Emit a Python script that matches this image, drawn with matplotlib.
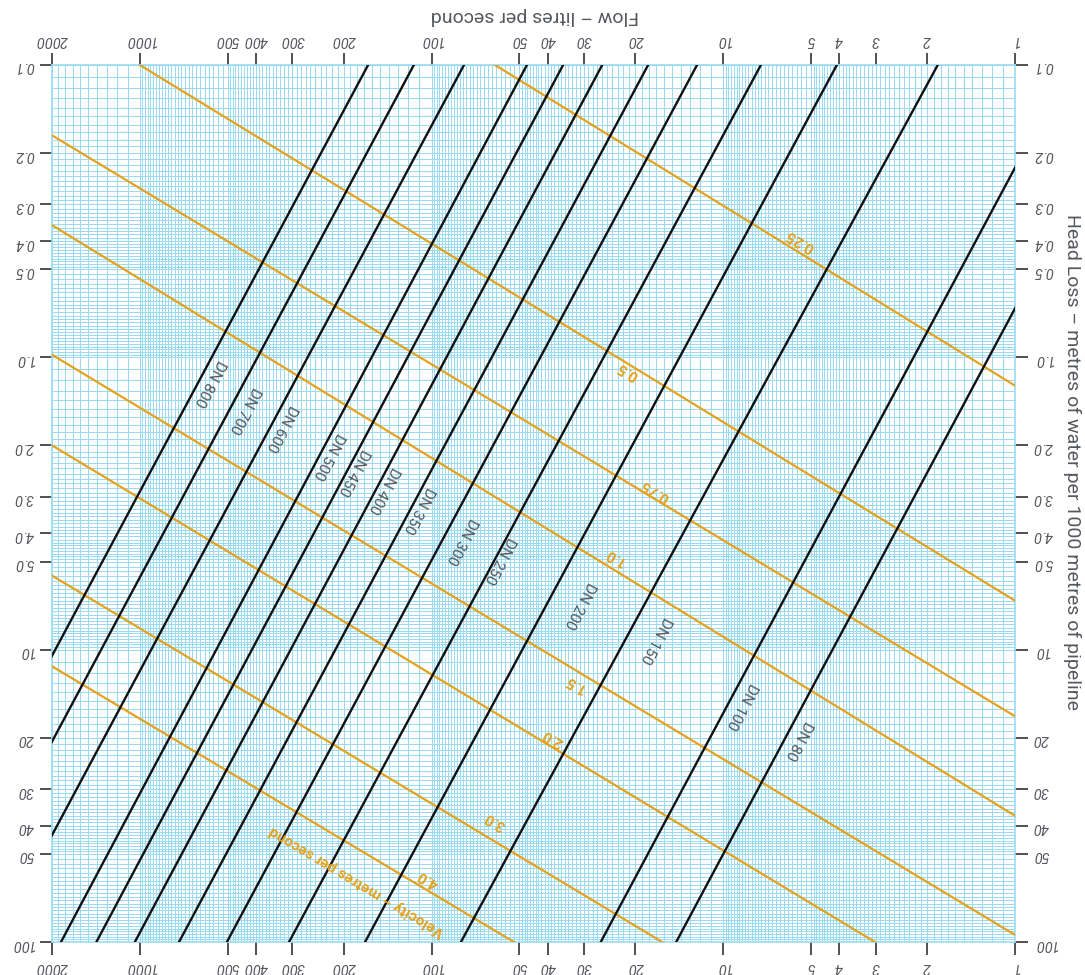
import numpy as np
import matplotlib
matplotlib.use('Agg')
import matplotlib.pyplot as plt
from matplotlib.ticker import FixedLocator, FixedFormatter, NullFormatter

plt.rcParams['font.family'] = ['Roboto', 'DejaVu Sans']

# pipe lines (Hazen-Williams style) - flow in l/s where each line meets head loss 0.1 and 100
pipe_names = ['DN 800', 'DN 700', 'DN 600', 'DN 500', 'DN 450', 'DN 400', 'DN 350',
              'DN 300', 'DN 250', 'DN 200', 'DN 150', 'DN 100', 'DN 80']
pipe_q_at_low = [165, 115, 77.4, 47.1, 35.4, 26.0, 18.1, 12.3, 7.43, 4.08, 1.84, 0.648, 0.358]
pipe_q_at_high = [6700, 4660, 3140, 1863, 1409, 1040, 734, 503, 308, 169, 79.3, 26.3, 14.5]
head_ends = [0.1, 100]
pipe_label_q = [575, 436, 326, 226, 185, 146, 111, 78.7, 58.3, 31.0, 17.1, 8.65, 5.53]
pipe_label_h = [1.23, 1.52, 1.75, 2.17, 2.47, 2.85, 3.34, 4.24, 4.95, 7.06, 9.3, 15.6, 20.5]

# velocity lines - start / end points (flow l/s, head loss m/1000m)
vel_names = ['0.25', '0.5', '0.75', '1.0', '1.5', '2.0', '3.0', '4.0']
vel_q_start = [60.6, 1000, 2000, 2000, 2000, 2000, 2000, 2000]
vel_h_start = [0.1, 0.1, 0.174, 0.353, 0.98, 2.0, 5.58, 11.4]
vel_q_end = [1, 1, 1, 1, 1, 3.02, 16.2, 52.2]
vel_h_end = [1.25, 6.8, 16.9, 37, 94.6, 100, 100, 100]
vel_label_q = [5.46, 21.2, 17.1, 23.5, 32.2, 38.4, 60.6, 103]
vel_label_h = [0.397, 1.11, 2.85, 4.80, 13.1, 20.0, 38.5, 60.8]

x_ticks = [1, 2, 3, 4, 5, 10, 20, 30, 40, 50, 100, 200, 300, 400, 500, 1000, 2000]
x_tick_labels = ['1', '2', '3', '4', '5', '10', '20', '30', '40', '50', '100',
                 '200', '300', '400', '500', '1000', '2000']
y_ticks = [0.1, 0.2, 0.3, 0.4, 0.5, 1, 2, 3, 4, 5, 10, 20, 30, 40, 50, 100]
y_tick_labels = ['0.1', '0.2', '0.3', '0.4', '0.5', '1.0', '2.0', '3.0', '4.0', '5.0',
                 '10', '20', '30', '40', '50', '100']

GRID = '#9adbf2'
ORANGE = '#e6a21c'
GREY = '#55585c'


def paper_lines(lo, hi):
    vals = []
    for e in range(lo, hi):
        vals += list(np.arange(1, 5, 0.1) * 10.0 ** e)
        vals += list(np.arange(5, 10, 0.2) * 10.0 ** e)
    return vals


fig = plt.figure(figsize=(10.85, 9.75), dpi=100)
ax = fig.add_axes([52 / 1085, 1 - 942 / 975, 963 / 1085, 877 / 975])
ax.set_xscale('log')
ax.set_yscale('log')

# chart is drawn upside down
ax.set_xlim(2000, 1)
ax.set_ylim(100, 0.1)

ax.xaxis.set_minor_locator(FixedLocator(paper_lines(0, 4)))
ax.yaxis.set_minor_locator(FixedLocator(paper_lines(-1, 2)))
ax.xaxis.set_minor_formatter(NullFormatter())
ax.yaxis.set_minor_formatter(NullFormatter())
ax.xaxis.set_major_locator(FixedLocator(x_ticks))
ax.xaxis.set_major_formatter(FixedFormatter(x_tick_labels))
ax.yaxis.set_major_locator(FixedLocator(y_ticks))
ax.yaxis.set_major_formatter(FixedFormatter(y_tick_labels))

ax.grid(which='minor', color=GRID, lw=0.72, antialiased=False)
ax.grid(which='major', color=GRID, lw=0.72, antialiased=False)
ax.tick_params(which='minor', length=0, labelleft=False, labelright=False,
               labeltop=False, labelbottom=False)
ax.tick_params(which='major', length=9, width=1.2, color='#333333', pad=4,
               labelsize=10.5, labelcolor=GREY, labelrotation=180,
               top=True, bottom=True, left=True, right=True,
               labeltop=True, labelbottom=True, labelleft=True, labelright=True)
for t in ax.xaxis.get_major_ticks() + ax.yaxis.get_major_ticks():
    t.label1.set_fontstyle('italic')
    t.label2.set_fontstyle('italic')
for sp in ax.spines.values():
    sp.set_color(GRID)
    sp.set_linewidth(1.2)

# velocity lines
for i in range(len(vel_names)):
    ax.plot([vel_q_start[i], vel_q_end[i]], [vel_h_start[i], vel_h_end[i]],
            color=ORANGE, lw=1.6, zorder=3)
    ax.text(vel_label_q[i], vel_label_h[i], vel_names[i], color=ORANGE,
            fontsize=11, fontweight='bold', rotation=149,
            rotation_mode='anchor', ha='center', va='center', zorder=5)
ax.text(180, 61.8, 'Velocity \u2013 metres per second', color=ORANGE, fontsize=11,
        fontweight='bold', rotation=149, rotation_mode='anchor',
        ha='center', va='center', zorder=5)

# pipe lines
for i in range(len(pipe_names)):
    ax.plot([pipe_q_at_low[i], pipe_q_at_high[i]], head_ends,
            color='#111111', lw=1.7, zorder=4)
    ax.text(pipe_label_q[i], pipe_label_h[i], pipe_names[i], color=GREY,
            fontsize=11, rotation=242, rotation_mode='anchor',
            ha='center', va='center', zorder=5)

fig.text(535 / 1085, 1 - 16 / 975, 'Flow \u2013 litres per second', fontsize=14,
         color=GREY, rotation=180, ha='center', va='center')
fig.text(1072 / 1085, 1 - 462 / 975,
         'Head Loss \u2013 metres of water per 1000 metres of pipeline',
         fontsize=14, color=GREY, rotation=270, ha='center', va='center')

fig.savefig('out.png', dpi=100)
